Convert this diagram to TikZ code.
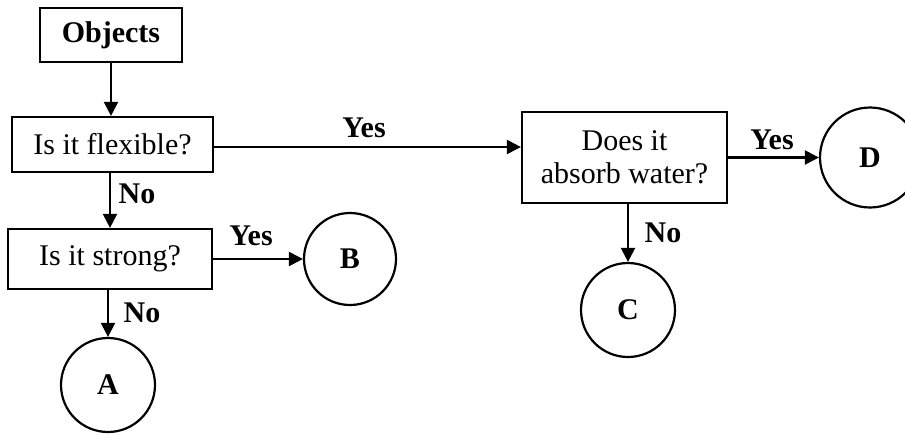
\documentclass[tikz,border=0pt]{standalone}
\usepackage{fontspec}
\setmainfont{Liberation Serif}
\usetikzlibrary{arrows.meta}
\begin{document}
\begin{tikzpicture}[x=1pt,y=-1pt,
  box/.style={draw,line width=2.2pt,rectangle,inner sep=0pt,align=center,font=\fontsize{30}{33}\selectfont},
  endc/.style={draw,line width=2.2pt,circle,inner sep=0pt,font=\fontsize{30}{33}\selectfont\bfseries},
  arr/.style={line width=2.2pt,-{Triangle[length=14pt,width=14pt]}},
  lbl/.style={font=\fontsize{30}{33}\selectfont\bfseries,inner sep=0pt}]
\useasboundingbox (0,0) rectangle (905,437);
\clip (0,0) rectangle (905,437);
\node[box,minimum width=142pt,minimum height=54pt,font=\fontsize{30}{33}\selectfont\bfseries] (obj) at (111,35) {Objects};
\node[box,minimum width=201pt,minimum height=55pt] (flex) at (112.5,144.5) {Is it flexible?};
\node[box,minimum width=204pt,minimum height=60pt] (strong) at (110,259) {Is it strong?};
\node[box,minimum width=205pt,minimum height=91pt] (does) at (624.5,157.5) {Does it\\absorb water?};
\node[endc,minimum size=92pt] (B) at (350,259) {B};
\node[endc,minimum size=94pt] (A) at (108,385) {A};
\node[endc,minimum size=94pt] (C) at (628,310) {C};
\node[endc,minimum size=100pt] (D) at (870,157.5) {D};
\draw[arr] (obj.south) -- (obj.south |- flex.north);
\draw[arr] ([yshift=-2.5pt]flex.east) -- ([yshift=-2.5pt]flex.east -| does.west);
\draw[arr] (flex.south -| strong.north) -- (strong.north);
\draw[arr] (strong.east) -- (B.west);
\draw[arr] (strong.south -| A.north) -- (A.north);
\draw[arr] (does.south -| C.north) -- (C.north);
\draw[arr] (does.east) -- (D.west);
\node[lbl] (y1) at (364,128) {Yes};
\node[lbl] (n1) at (137,194) {No};
\node[lbl] (y2) at (251,236) {Yes};
\node[lbl] (n2) at (142,313) {No};
\node[lbl] (y3) at (772,140) {Yes};
\node[lbl] (n3) at (663,233) {No};
\end{tikzpicture}
\end{document}
